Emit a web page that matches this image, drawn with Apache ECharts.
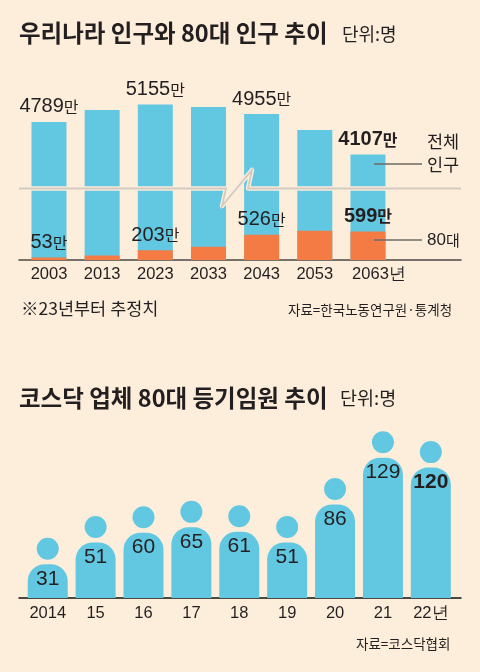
<!DOCTYPE html>
<html>
<head>
<meta charset="utf-8">
<style>
  html, body { margin: 0; padding: 0; background: #fdeedb; }
  #chart-container { width: 480px; height: 672px; }
</style>
<script src="https://cdn.jsdelivr.net/npm/echarts@6/dist/echarts.min.js"></script>
</head>
<body>
<div id="chart-container"></div>
<script>
// top chart, in units of 10,000 people
const popYears = [2003, 2013, 2023, 2033, 2043, 2053, 2063];
const popTicks = ["2003", "2013", "2023", "2033", "2043", "2053", "2063년"];
const popTotal = [4789, 5040, 5155, 5100, 4955, 4620, 4107];
const popOver80 = [53, 95, 203, 275, 526, 610, 599];
const totalShown = [true, false, true, false, true, false, true];
const over80Shown = [true, false, true, false, true, false, true];

// bottom chart, people
const boardYears = [2014, 2015, 2016, 2017, 2018, 2019, 2020, 2021, 2022];
const boardTicks = ["2014", "15", "16", "17", "18", "19", "20", "21", "22년"];
const boardValues = [31, 51, 60, 65, 61, 51, 86, 129, 120];

const BG = "#fdeedb";
const BLUE = "#62c7e1";
const ORANGE = "#f47b43";
const INK = "#231f20";
const FONT = "'Liberation Sans', sans-serif";
const KR = "'Noto Sans CJK KR', sans-serif";

var dom = document.getElementById("chart-container");
var myChart = echarts.init(dom, null, { renderer: "canvas" });

const numRich = (bold) => ({
  n: { fontFamily: FONT, fontSize: 20, fontWeight: bold ? "bold" : "normal", color: INK },
  u: { fontFamily: KR, fontSize: 16, fontWeight: bold ? "bold" : "normal", color: INK },
});

// last value of each top series is the bold one
const popLabel = (value, i, shown) => {
  const last = i === popYears.length - 1;
  return {
    value: [popYears[i], value],
    label: {
      show: shown[i],
      position: "top",
      distance: 5,
      formatter: "{n|" + value + "}{u|만}",
      rich: numRich(last),
    },
  };
};

const text = (x, y, content, size) => ({
  type: "text",
  x,
  y,
  z: 200,
  silent: true,
  style: {
    text: content,
    font: size + "px " + KR,
    fill: INK,
    verticalAlign: "middle",
  },
});

const leader = (y) => ({
  type: "line",
  silent: true,
  z: 200,
  shape: { x1: 374, y1: y, x2: 422, y2: y },
  style: { stroke: "#6d6a64", lineWidth: 1.5 },
});

// "년" hangs off the year, so the last tick gets a spacer to keep digits under the bar
const tickFormat = (years, ticks) => (v) => {
  const s = ticks[years.indexOf(v)];
  return s.endsWith("년") && s.length > 3 ? "{pad|}{t|" + s + "}" : "{t|" + s + "}";
};
const tickRich = {
  pad: { width: 22 },
  t: { fontFamily: FONT, fontSize: 16.5, color: INK },
};

const breakPts = [[19, 188.5], [226, 188.5], [222, 206], [252, 170], [248, 188.5], [461, 188.5]];

option = {
  backgroundColor: BG,
  animation: false,
  title: [
    { text: "우리나라 인구와 80대 인구 추이", left: 14, top: 16,
      textStyle: { fontFamily: KR, fontSize: 23.5, fontWeight: "bold", color: INK } },
    { text: "코스닥 업체 80대 등기임원 추이", left: 14, top: 381,
      textStyle: { fontFamily: KR, fontSize: 23.5, fontWeight: "bold", color: INK } },
  ],
  grid: [
    { left: 19, right: 19, top: 88, height: 172 },
    { left: 19, right: 19, top: 435, height: 163 },
  ],
  xAxis: [
    {
      gridIndex: 0,
      type: "value",
      min: 1997.36,
      max: 2080.5,
      splitLine: { show: false },
      axisLine: { show: true, lineStyle: { color: "#4a4a46", width: 1.5 } },
      axisTick: { show: false },
      axisLabel: {
        customValues: popYears,
        formatter: tickFormat(popYears, popTicks),
        rich: tickRich,
        margin: 6,
      },
    },
    {
      gridIndex: 1,
      type: "value",
      min: 2013.4,
      max: 2022.63,
      splitLine: { show: false },
      axisLine: { show: true, lineStyle: { color: "#111", width: 1.5 } },
      axisTick: { show: false },
      axisLabel: {
        customValues: boardYears,
        formatter: tickFormat(boardYears, boardTicks),
        rich: tickRich,
        margin: 7,
      },
    },
  ],
  yAxis: [
    {
      gridIndex: 0,
      type: "value",
      min: 0,
      max: 5500,
      axisLine: { show: false },
      axisTick: { show: false },
      axisLabel: { show: false },
      splitLine: { show: false },
      breaks: [{ start: 1500, end: 3400, gap: 0 }],
      breakArea: { show: false },
    },
    {
      gridIndex: 1,
      type: "value",
      min: 0,
      max: 150,
      axisLine: { show: false },
      axisTick: { show: false },
      axisLabel: { show: false },
      splitLine: { show: false },
    },
  ],
  series: [
    {
      name: "전체 인구",
      type: "bar",
      xAxisIndex: 0,
      yAxisIndex: 0,
      barWidth: 35,
      barGap: "-100%",
      itemStyle: { color: BLUE },
      data: popTotal.map((v, i) => popLabel(v, i, totalShown)),
    },
    {
      name: "80대",
      type: "bar",
      xAxisIndex: 0,
      yAxisIndex: 0,
      barWidth: 35,
      barGap: "-100%",
      itemStyle: { color: ORANGE },
      data: popOver80.map((v, i) => popLabel(v, i, over80Shown)),
    },
    {
      name: "등기임원",
      type: "bar",
      xAxisIndex: 1,
      yAxisIndex: 1,
      barWidth: 40,
      itemStyle: { color: BLUE, borderRadius: [17, 17, 0, 0] },
      data: boardValues.map((v, i) => ({
        value: [boardYears[i], v],
        label: {
          show: true,
          position: "insideTop",
          distance: 4,
          formatter: String(v),
          fontFamily: FONT,
          fontSize: 21,
          fontWeight: i === boardValues.length - 1 ? "bold" : "normal",
          color: INK,
        },
      })),
    },
    {
      name: "머리",
      type: "scatter",
      xAxisIndex: 1,
      yAxisIndex: 1,
      symbol: "circle",
      symbolSize: 22,
      symbolOffset: [0, -15.5],
      itemStyle: { color: BLUE, opacity: 1 },
      data: boardValues.map((v, i) => [boardYears[i], v]),
    },
  ],
  graphic: [
    text(342, 34, "단위:명", 18),
    text(340, 398, "단위:명", 18.5),
    text(427, 141, "전체", 17.5),
    text(427, 164, "인구", 17.5),
    text(21, 308, "※23년부터 추정치", 17.5),
    text(288, 310, "자료=한국노동연구원·통계청", 13.5),
    text(356, 644, "자료=코스닥협회", 13.5),
    {
      type: "text", x: 427, y: 240, z: 200, silent: true,
      style: { text: "80", font: "17px " + FONT, fill: INK, verticalAlign: "middle" },
    },
    text(446, 240, "대", 15),
    leader(164),
    leader(240),
    {
      type: "polyline", silent: true, z: 200,
      shape: { points: breakPts },
      style: { stroke: BG, lineWidth: 4.5, fill: null, lineJoin: "round" },
    },
    {
      type: "polyline", silent: true, z: 201,
      shape: { points: breakPts },
      style: { stroke: "#d3cbc1", lineWidth: 1.8, fill: null },
    },
  ],
};

if (option && typeof option === "object") {
  myChart.setOption(option);
}

window.addEventListener("resize", myChart.resize);
</script>
</body>
</html>
